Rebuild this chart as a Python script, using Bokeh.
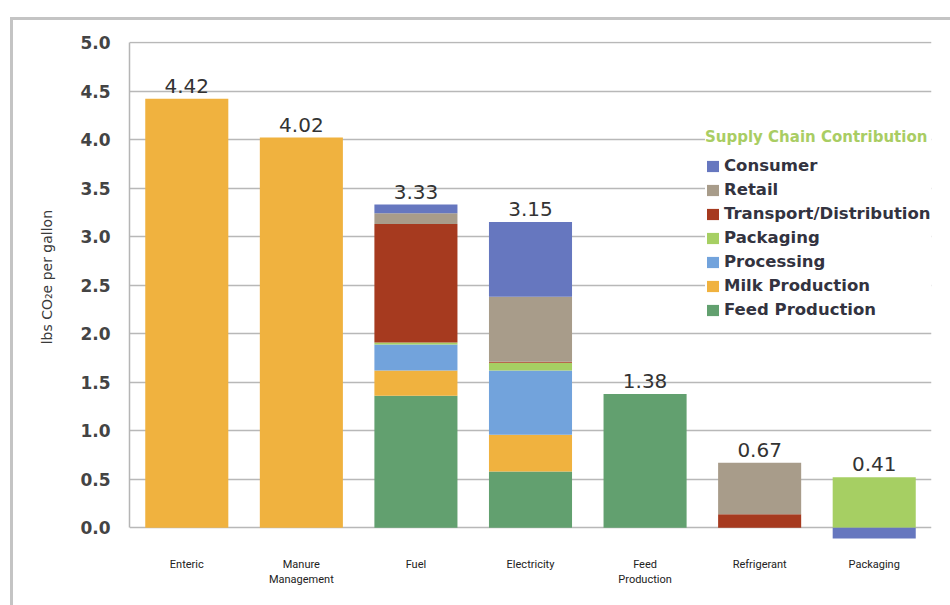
from bokeh.plotting import figure
from bokeh.models import (ColumnDataSource, Range1d, FixedTicker, PrintfTickFormatter,
                          Legend, LegendItem, LabelSet)
from bokeh.core.properties import value
from bokeh.embed import file_html
from bokeh.resources import INLINE
import numpy as np

categories = ["Enteric", "Manure\nManagement", "Fuel", "Electricity",
              "Feed\nProduction", "Refrigerant", "Packaging"]

# stacking order bottom -> top
series_names = ["Feed Production", "Milk Production", "Processing", "Packaging",
                "Transport/Distribution", "Retail", "Consumer"]
feed_production = [0.0, 0.0, 1.36, 0.58, 1.38, 0.0, 0.0]
milk_production = [4.42, 4.02, 0.26, 0.38, 0.0, 0.0, 0.0]
processing = [0.0, 0.0, 0.27, 0.66, 0.0, 0.0, 0.0]
packaging = [0.0, 0.0, 0.02, 0.08, 0.0, 0.0, 0.52]
transport = [0.0, 0.0, 1.22, 0.01, 0.0, 0.14, 0.0]
retail = [0.0, 0.0, 0.11, 0.67, 0.0, 0.53, 0.0]
consumer = [0.0, 0.0, 0.09, 0.77, 0.0, 0.0, -0.11]
total_labels = ["4.42", "4.02", "3.33", "3.15", "1.38", "0.67", "0.41"]

series_values = [feed_production, milk_production, processing, packaging,
                 transport, retail, consumer]
colors = ["#62a06f", "#f0b23f", "#72a3dc", "#a6cf63", "#a63a1f", "#a89c8a", "#6677bf"]

y_ticks = [0.0, 0.5, 1.0, 1.5, 2.0, 2.5, 3.0, 3.5, 4.0, 4.5, 5.0]

p = figure(x_range=categories, y_range=Range1d(-0.12, 5.01),
           width=950, height=605, output_backend="svg", toolbar_location=None,
           min_border_left=129, min_border_right=19, min_border_top=41,
           min_border_bottom=66)
p.outline_line_color = None
p.background_fill_color = "white"
p.border_fill_alpha = 0.0
# thin grey frame around the whole graphic (left and top edges visible)
p.styles = {
    "background-color": "white",
    "background-image": "linear-gradient(#c4c4c4, #c4c4c4), linear-gradient(#c4c4c4, #c4c4c4)",
    "background-size": "3px 100%, 100% 3px",
    "background-position": "10px 17px, 10px 17px",
    "background-repeat": "no-repeat",
}

pos_base = np.zeros(len(categories))
neg_base = np.zeros(len(categories))
renderers = {}
for name, vals, col in zip(series_names, series_values, colors):
    v = np.array(vals, dtype=float)
    bottom = np.where(v >= 0, pos_base, neg_base + v)
    top = np.where(v >= 0, pos_base + v, neg_base)
    pos_base = pos_base + np.where(v > 0, v, 0)
    neg_base = neg_base + np.where(v < 0, v, 0)
    src = ColumnDataSource(dict(x=categories, bottom=bottom, top=top))
    r = p.vbar(x="x", bottom="bottom", top="top", width=0.725, source=src,
               fill_color=col, line_color=None)
    renderers[name] = r

lab_src = ColumnDataSource(dict(x=categories, y=pos_base, text=total_labels))
labels = LabelSet(x="x", y="y", text="text", source=lab_src, y_offset=6,
                  text_align="center", text_baseline="bottom",
                  text_font=value("DejaVu Sans"), text_font_size=value("20px"),
                  text_color="#333333")
p.add_layout(labels)

# y axis and grid
p.yaxis.ticker = FixedTicker(ticks=y_ticks)
p.yaxis.formatter = PrintfTickFormatter(format="%.1f")
p.yaxis.bounds = (0, 5)
p.yaxis.axis_line_color = "#b5b5b5"
p.yaxis.axis_line_width = 1.5
p.yaxis.major_tick_line_color = None
p.yaxis.minor_tick_line_color = None
p.yaxis.major_tick_out = 0
p.yaxis.major_label_standoff = 19
p.yaxis.major_label_text_font = "DejaVu Sans"
p.yaxis.major_label_text_font_style = "bold"
p.yaxis.major_label_text_font_size = "17px"
p.yaxis.major_label_text_color = "#444444"
p.yaxis.axis_label = "\u00a0\u00a0\u00a0\u00a0\u00a0\u00a0lbs CO₂e per gallon"
p.yaxis.axis_label_text_font = "DejaVu Sans"
p.yaxis.axis_label_text_font_style = "normal"
p.yaxis.axis_label_text_font_size = "14px"
p.yaxis.axis_label_text_color = "#3a3a3a"
p.yaxis.axis_label_standoff = 22

p.ygrid.ticker = FixedTicker(ticks=y_ticks)
p.ygrid.grid_line_color = "#b8b8b8"
p.ygrid.grid_line_width = 1.5
p.xgrid.grid_line_color = None

# x axis
p.xaxis.axis_line_color = None
p.xaxis.major_tick_line_color = None
p.xaxis.minor_tick_line_color = None
p.xaxis.major_tick_out = 0
p.xaxis.major_tick_in = 0
p.xaxis.major_label_standoff = 18
p.xaxis.major_label_text_font = "Roboto"
p.xaxis.major_label_text_font_size = "11px"
p.xaxis.major_label_text_line_height = 1.2
p.xaxis.major_label_text_color = "#222222"

# legend (top entry = top of stack)
items = [LegendItem(label=n_, renderers=[renderers[n_]]) for n_ in reversed(series_names)]
legend = Legend(items=items, location=(576, 219))
legend.title = "Supply Chain Contribution"
legend.title_text_font = "DejaVu Sans"
legend.title_text_font_style = "bold"
legend.title_text_font_size = "15px"
legend.title_text_color = "#a9cd63"
legend.title_standoff = 9
legend.label_text_font = "DejaVu Sans"
legend.label_text_font_style = "bold"
legend.label_text_font_size = "16.5px"
legend.label_text_color = "#333340"
legend.label_standoff = 4
legend.glyph_width = 15
legend.glyph_height = 14
legend.label_height = 21
legend.spacing = 3
legend.padding = 6
legend.margin = 0
legend.border_line_color = None
legend.background_fill_color = "white"
legend.background_fill_alpha = 1.0
p.add_layout(legend)

open("out.html", "w").write(file_html(p, INLINE))
